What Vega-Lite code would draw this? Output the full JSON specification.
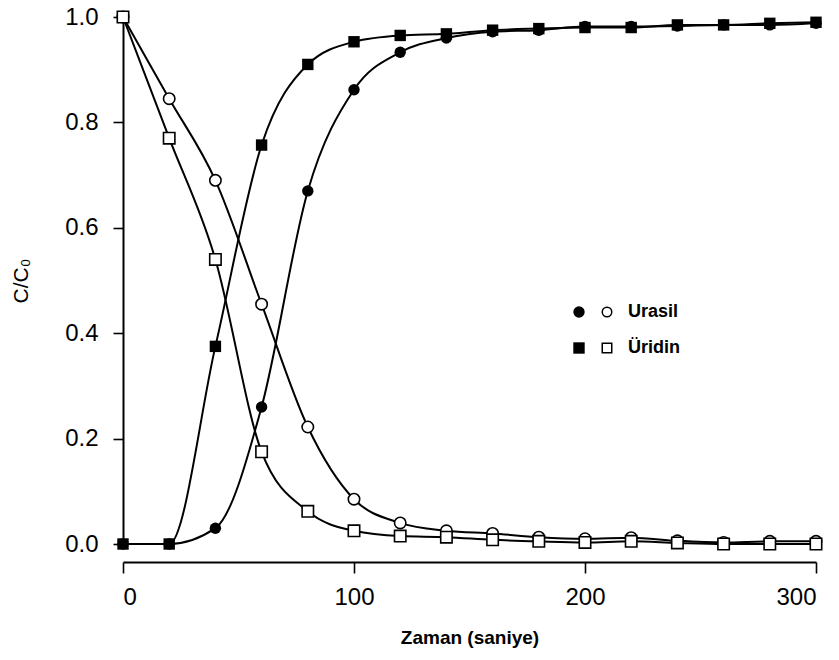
{
  "$schema": "https://vega.github.io/schema/vega-lite/v6.json",
  "autosize": {"type": "none"},
  "width": 693,
  "height": 527,
  "padding": {"left": 123, "top": 17, "right": 23, "bottom": 116},
  "background": "white",
  "config": {
    "view": {"stroke": null},
    "axis": {"grid": false, "domainColor": "black", "tickColor": "black", "labelColor": "black", "titleColor": "black", "domainWidth": 2, "tickWidth": 1.6, "labelFont": "Liberation Sans", "titleFont": "Liberation Sans"},
    "legend": {"labelFont": "Liberation Sans"}
  },
  "data": {
    "values": [
      {"t": 0, "v": 1.0, "c": "Urasil", "k": "open"},
      {"t": 20, "v": 0.845, "c": "Urasil", "k": "open"},
      {"t": 40, "v": 0.69, "c": "Urasil", "k": "open"},
      {"t": 60, "v": 0.455, "c": "Urasil", "k": "open"},
      {"t": 80, "v": 0.222, "c": "Urasil", "k": "open"},
      {"t": 100, "v": 0.085, "c": "Urasil", "k": "open"},
      {"t": 120, "v": 0.04, "c": "Urasil", "k": "open"},
      {"t": 140, "v": 0.025, "c": "Urasil", "k": "open"},
      {"t": 160, "v": 0.02, "c": "Urasil", "k": "open"},
      {"t": 180, "v": 0.013, "c": "Urasil", "k": "open"},
      {"t": 200, "v": 0.01, "c": "Urasil", "k": "open"},
      {"t": 220, "v": 0.012, "c": "Urasil", "k": "open"},
      {"t": 240, "v": 0.006, "c": "Urasil", "k": "open"},
      {"t": 260, "v": 0.003, "c": "Urasil", "k": "open"},
      {"t": 280, "v": 0.005, "c": "Urasil", "k": "open"},
      {"t": 300, "v": 0.005, "c": "Urasil", "k": "open"},
      {"t": 0, "v": 0.0, "c": "Urasil", "k": "filled"},
      {"t": 20, "v": 0.0, "c": "Urasil", "k": "filled"},
      {"t": 40, "v": 0.03, "c": "Urasil", "k": "filled"},
      {"t": 60, "v": 0.26, "c": "Urasil", "k": "filled"},
      {"t": 80, "v": 0.67, "c": "Urasil", "k": "filled"},
      {"t": 100, "v": 0.862, "c": "Urasil", "k": "filled"},
      {"t": 120, "v": 0.933, "c": "Urasil", "k": "filled"},
      {"t": 140, "v": 0.96, "c": "Urasil", "k": "filled"},
      {"t": 160, "v": 0.972, "c": "Urasil", "k": "filled"},
      {"t": 180, "v": 0.975, "c": "Urasil", "k": "filled"},
      {"t": 200, "v": 0.982, "c": "Urasil", "k": "filled"},
      {"t": 220, "v": 0.982, "c": "Urasil", "k": "filled"},
      {"t": 240, "v": 0.983, "c": "Urasil", "k": "filled"},
      {"t": 260, "v": 0.985, "c": "Urasil", "k": "filled"},
      {"t": 280, "v": 0.985, "c": "Urasil", "k": "filled"},
      {"t": 300, "v": 0.988, "c": "Urasil", "k": "filled"},
      {"t": 0, "v": 1.0, "c": "Üridin", "k": "open"},
      {"t": 20, "v": 0.77, "c": "Üridin", "k": "open"},
      {"t": 40, "v": 0.54, "c": "Üridin", "k": "open"},
      {"t": 60, "v": 0.175, "c": "Üridin", "k": "open"},
      {"t": 80, "v": 0.062, "c": "Üridin", "k": "open"},
      {"t": 100, "v": 0.025, "c": "Üridin", "k": "open"},
      {"t": 120, "v": 0.015, "c": "Üridin", "k": "open"},
      {"t": 140, "v": 0.013, "c": "Üridin", "k": "open"},
      {"t": 160, "v": 0.008, "c": "Üridin", "k": "open"},
      {"t": 180, "v": 0.005, "c": "Üridin", "k": "open"},
      {"t": 200, "v": 0.003, "c": "Üridin", "k": "open"},
      {"t": 220, "v": 0.005, "c": "Üridin", "k": "open"},
      {"t": 240, "v": 0.002, "c": "Üridin", "k": "open"},
      {"t": 260, "v": 0.0, "c": "Üridin", "k": "open"},
      {"t": 280, "v": 0.0, "c": "Üridin", "k": "open"},
      {"t": 300, "v": 0.0, "c": "Üridin", "k": "open"},
      {"t": 0, "v": 0.0, "c": "Üridin", "k": "filled"},
      {"t": 20, "v": 0.0, "c": "Üridin", "k": "filled"},
      {"t": 40, "v": 0.375, "c": "Üridin", "k": "filled"},
      {"t": 60, "v": 0.757, "c": "Üridin", "k": "filled"},
      {"t": 80, "v": 0.91, "c": "Üridin", "k": "filled"},
      {"t": 100, "v": 0.953, "c": "Üridin", "k": "filled"},
      {"t": 120, "v": 0.965, "c": "Üridin", "k": "filled"},
      {"t": 140, "v": 0.968, "c": "Üridin", "k": "filled"},
      {"t": 160, "v": 0.975, "c": "Üridin", "k": "filled"},
      {"t": 180, "v": 0.978, "c": "Üridin", "k": "filled"},
      {"t": 200, "v": 0.98, "c": "Üridin", "k": "filled"},
      {"t": 220, "v": 0.98, "c": "Üridin", "k": "filled"},
      {"t": 240, "v": 0.985, "c": "Üridin", "k": "filled"},
      {"t": 260, "v": 0.985, "c": "Üridin", "k": "filled"},
      {"t": 280, "v": 0.988, "c": "Üridin", "k": "filled"},
      {"t": 300, "v": 0.99, "c": "Üridin", "k": "filled"}
    ]
  },
  "encoding": {
    "x": {
      "field": "t", "type": "quantitative",
      "scale": {"domain": [0, 300], "nice": false, "zero": false},
      "axis": {"values": [0, 100, 200, 300], "title": "Zaman (saniye)", "offset": 18, "tickSize": 11, "labelPadding": 12, "labelFontSize": 24, "titleFontSize": 19, "titleFontWeight": "bold", "titlePadding": 19}
    },
    "y": {
      "field": "v", "type": "quantitative",
      "scale": {"domain": [0, 1], "nice": false},
      "axis": {"values": [0, 0.2, 0.4, 0.6, 0.8, 1.0], "format": ".1f", "title": "C/C₀", "tickSize": 10, "labelPadding": 15, "labelFontSize": 24, "titleFontSize": 21, "titleFontWeight": "normal", "titlePadding": 33}
    }
  },
  "layer": [
    {
      "mark": {"type": "line", "color": "black", "strokeWidth": 2, "interpolate": "monotone"},
      "encoding": {"detail": [{"field": "c"}, {"field": "k"}]}
    },
    {
      "transform": [{"filter": "datum.k == 'filled'"}],
      "mark": {"type": "point", "filled": true, "color": "black", "size": 130, "opacity": 1},
      "encoding": {
        "shape": {
          "field": "c", "type": "nominal",
          "scale": {"domain": ["Urasil", "Üridin"], "range": ["circle", "square"]},
          "legend": {"orient": "none", "legendX": 447, "legendY": 286, "title": null, "labelExpr": "''", "symbolSize": 130, "labelFontSize": 18, "rowPadding": 18, "padding": 0, "labelOffset": 0,
            "encode": {"symbols": {"update": {"fill": {"value": "black"}, "stroke": {"value": "black"}, "opacity": {"value": 1}}}}}
        }
      }
    },
    {
      "transform": [{"filter": "datum.k == 'open'"}],
      "mark": {"type": "point", "filled": true, "fill": "white", "stroke": "black", "strokeWidth": 1.6, "size": 130, "opacity": 1},
      "encoding": {
        "shape": {
          "field": "c", "type": "nominal",
          "scale": {"domain": ["Urasil", "Üridin"], "range": ["circle", "square"]},
          "legend": {"orient": "none", "legendX": 475, "legendY": 286, "title": null, "symbolSize": 90, "labelFontSize": 18, "labelFontWeight": "bold", "labelColor": "black", "rowPadding": 18, "padding": 0, "labelOffset": 12,
            "encode": {"symbols": {"update": {"fill": {"value": "white"}, "stroke": {"value": "black"}, "strokeWidth": {"value": 1.5}, "opacity": {"value": 1}}}}}
        }
      }
    }
  ],
  "resolve": {"scale": {"shape": "independent"}, "legend": {"shape": "independent"}}
}
